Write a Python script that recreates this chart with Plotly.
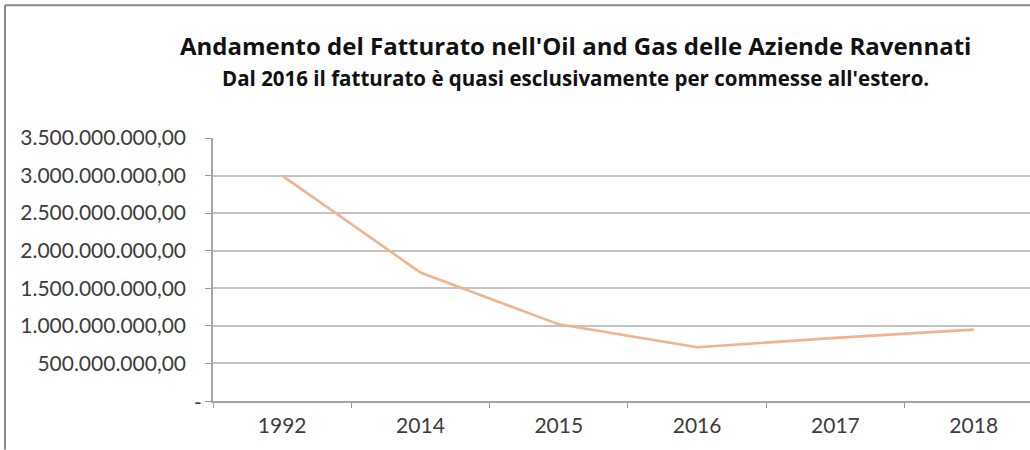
import plotly.graph_objects as go

# ---- data ----
years = ["1992", "2014", "2015", "2016", "2017", "2018"]
fatturato = [3.0e9, 1.71e9, 1.02e9, 0.715e9, 0.84e9, 0.95e9]
y_tick_vals = [0, 5e8, 1e9, 1.5e9, 2e9, 2.5e9, 3e9, 3.5e9]
y_tick_text = ["", "500.000.000,00", "1.000.000.000,00", "1.500.000.000,00",
               "2.000.000.000,00", "2.500.000.000,00", "3.000.000.000,00",
               "3.500.000.000,00"]
title_text = "Andamento del Fatturato nell'Oil and Gas delle Aziende Ravennati"
subtitle_text = "Dal 2016 il fatturato è quasi esclusivamente per commesse all'estero."

# ---- layout geometry (pixels) ----
W, H = 1030, 450
L, R, T, B = 213, 1030, 138, 401.5

def px(x):
    return (x - L) / (R - L)

def py(y):
    return (B - y) / (B - T)

fig = go.Figure()
fig.add_trace(go.Scatter(
    x=years, y=fatturato, mode="lines",
    line=dict(color="#F0B48E", width=2.6),
    hoverinfo="skip", showlegend=False,
))

tick_font = dict(family="Lato, Carlito, sans-serif", size=21, color="#3c3c3c")

fig.update_xaxes(
    type="category", range=[-0.5, 5.407],
    tickson="boundaries", ticks="outside", ticklen=5, tickcolor="#9a9a9a",
    showline=True, linecolor="#a6a6a6", linewidth=1.5,
    showgrid=False, tickfont=tick_font, ticklabelstandoff=5,
)
fig.update_yaxes(
    range=[0, 3.5e9], tickvals=y_tick_vals, ticktext=y_tick_text,
    ticks="outside", ticklen=6, tickcolor="#9a9a9a",
    showline=True, linecolor="#a6a6a6", linewidth=1.5,
    showgrid=True, gridcolor="#c4c4c4", gridwidth=1.5,
    zeroline=False, tickfont=tick_font, ticklabelstandoff=15,
)

annotations = [
    dict(text="<b>" + title_text + "</b>", x=px(575), y=py(45),
         font=dict(family="Open Sans, sans-serif", size=24, color="#111111")),
    dict(text="<b>" + subtitle_text + "</b>", x=px(575), y=py(78),
         font=dict(family="Open Sans, sans-serif", size=20.5, color="#111111")),
    dict(text="-", x=px(198), y=py(B),
         font=tick_font),
]
for a in annotations:
    a.update(xref="paper", yref="paper", showarrow=False,
             xanchor="center", yanchor="middle")

fig.update_layout(
    width=W, height=H,
    margin=dict(l=L, r=W - R, t=T, b=H - B),
    paper_bgcolor="white", plot_bgcolor="white",
    annotations=annotations,
    shapes=[
        dict(type="line", xref="paper", yref="paper",
             x0=px(5), x1=px(1030), y0=py(5), y1=py(5),
             line=dict(color="#8a8a8a", width=2)),
        dict(type="line", xref="paper", yref="paper",
             x0=px(5), x1=px(5), y0=py(5), y1=py(450),
             line=dict(color="#8a8a8a", width=2)),
    ],
)

fig.write_html("out.html")
